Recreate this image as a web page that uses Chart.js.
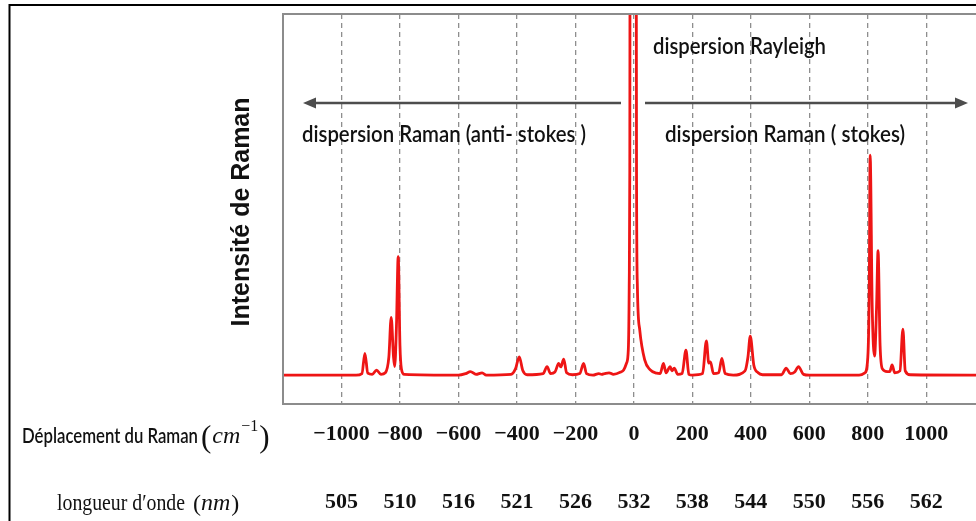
<!DOCTYPE html>
<html>
<head>
<meta charset="utf-8">
<script src="https://cdn.jsdelivr.net/npm/chart.js@4/dist/chart.umd.min.js"></script>
<style>
html,body{margin:0;padding:0;background:#fff;}
#wrap{width:976px;height:521px;position:relative;overflow:hidden;}
</style>
</head>
<body>
<div id="wrap"><canvas id="c" width="976" height="521"></canvas></div>
<script>
// ---- Data ----
// Raman shift (cm^-1)
const ramanShift = [
  -1200, -950, -930, -920, -910, -895, -880, -865, -850, -838, -830, -822, -818, -812, -806, -800, -795, -785,
  -600, -575, -559, -540, -519, -505, -420, -405, -392, -380, -365, -310, -297, -285, -270, -257, -250, -240,
  -230, -210, -185, -172, -162, -140, -120, -110, -100, -85, -70, -45, -35, -25, -19, -16, -14, -13,
  8, 9, 12, 20, 37, 55, 78, 90, 101, 110, 124, 130, 138, 150, 165, 178, 188, 200, 235, 248, 256, 262,
  272, 290, 301, 312, 340, 380, 390, 398, 410, 425, 440, 505, 521, 535, 550, 563, 580, 600, 770, 790,
  800, 805, 808, 815, 823, 830, 835, 842, 850, 866, 875, 883, 892, 910, 920, 928, 945, 1170
];
// Intensity (arbitrary units)
const intensity = [
  7.4, 7.4, 7.8, 13.0, 7.9, 7.6, 8.7, 7.6, 8.0, 12.0, 22.2, 12.0, 9.6, 20.0, 37.8, 15.0, 9.0, 7.6,
  7.4, 7.8, 8.3, 7.6, 8.0, 7.4, 7.6, 9.0, 12.1, 8.6, 7.5, 7.8, 9.6, 7.8, 8.2, 10.4, 9.5, 11.5,
  8.0, 7.5, 7.8, 10.4, 7.8, 7.4, 7.8, 7.6, 7.8, 8.0, 7.6, 8.2, 8.7, 10.5, 14.0, 30.0, 60.0, 120.0,
  120.0, 60.0, 30.0, 19.0, 11.3, 8.8, 7.9, 7.8, 10.4, 8.0, 9.6, 8.5, 9.2, 7.6, 7.8, 13.8, 7.6, 7.4, 7.8, 16.2, 10.5, 10.8,
  7.8, 8.0, 11.7, 7.8, 7.4, 8.5, 12.0, 17.4, 10.0, 8.0, 7.5, 7.5, 9.2, 7.8, 8.2, 9.6, 7.6, 7.4, 7.4, 8.0,
  12.0, 30.0, 63.8, 25.0, 12.3, 25.0, 39.3, 15.0, 9.0, 8.3, 8.3, 10.0, 8.0, 8.5, 19.2, 8.5, 7.5, 7.4
];
// Axis ticks
const shiftTicks = [-1000, -800, -600, -400, -200, 0, 200, 400, 600, 800, 1000];
const shiftTickLabels = ['−1000', '−800', '−600', '−400', '−200', '0', '200', '400', '600', '800', '1000'];
const wavelengthTickLabels = ['505', '510', '516', '521', '526', '532', '538', '544', '550', '556', '562'];
// Texts
const yTitle = 'Intensité de Raman';
const txtRayleigh = 'dispersion Rayleigh';
const txtAntiStokes = 'dispersion Raman (anti- stokes )';
const txtStokes = 'dispersion Raman ( stokes)';
const row1Title = 'Déplacement du Raman';
const row2Title = 'longueur d′onde';

const points = ramanShift.map((x, i) => ({x: x, y: intensity[i]}));

function fitSize(ctx, text, width, style, family) {
  ctx.font = style + ' 100px ' + family;
  return 100 * width / ctx.measureText(text).width;
}
// draw text at a given font size, squeezed horizontally to a target width
function drawFit(ctx, text, x, y, width, size, style, family, color) {
  ctx.save();
  ctx.font = style + ' ' + size + 'px ' + family;
  const sx = Math.min(1.15, width / ctx.measureText(text).width);
  ctx.fillStyle = color;
  ctx.textAlign = 'left';
  ctx.textBaseline = 'alphabetic';
  ctx.translate(x, y);
  ctx.scale(sx, 1);
  ctx.fillText(text, 0, 0);
  ctx.restore();
}
function arrow(ctx, x1, x2, y, color) {
  ctx.save();
  ctx.strokeStyle = color; ctx.fillStyle = color; ctx.lineWidth = 2.5;
  const dir = Math.sign(x2 - x1);
  ctx.beginPath(); ctx.moveTo(x1, y); ctx.lineTo(x2 - dir * 8, y); ctx.stroke();
  ctx.beginPath(); ctx.moveTo(x2, y); ctx.lineTo(x2 - dir * 13, y - 5.5); ctx.lineTo(x2 - dir * 13, y + 5.5); ctx.closePath(); ctx.fill();
  ctx.restore();
}

const decor = {
  id: 'decor',
  beforeDraw(chart) {
    const ctx = chart.ctx;
    ctx.save();
    ctx.fillStyle = '#fff';
    ctx.fillRect(0, 0, chart.width, chart.height);
    ctx.restore();
  },
  afterDraw(chart) {
    const ctx = chart.ctx;
    const a = chart.chartArea;
    ctx.save();
    // outer black frame
    ctx.strokeStyle = '#000'; ctx.lineWidth = 2;
    ctx.beginPath(); ctx.moveTo(9.5, 521); ctx.lineTo(9.5, 5); ctx.lineTo(976, 5); ctx.stroke();
    // plot frame
    ctx.strokeStyle = '#8c8c8c'; ctx.lineWidth = 2;
    ctx.beginPath();
    ctx.moveTo(976, a.top); ctx.lineTo(a.left, a.top); ctx.lineTo(a.left, a.bottom); ctx.lineTo(976, a.bottom);
    ctx.stroke();
    // arrows
    arrow(ctx, 621, 303, 103, '#4d4d4d');
    arrow(ctx, 645, 968, 103, '#4d4d4d');
    // annotation texts
    drawFit(ctx, txtRayleigh, 653, 54, 173, 22, '600', 'Lato', '#111');
    drawFit(ctx, txtAntiStokes, 302, 142, 284, 22, '600', 'Lato', '#111');
    drawFit(ctx, txtStokes, 665, 142, 240, 22, '600', 'Lato', '#111');
    // y title
    ctx.save();
    ctx.translate(249, 212);
    ctx.rotate(-Math.PI / 2);
    const ys = fitSize(ctx, yTitle, 229, 'bold', '"Liberation Sans"');
    ctx.font = 'bold ' + ys.toFixed(2) + 'px "Liberation Sans"';
    ctx.fillStyle = '#111'; ctx.textAlign = 'center'; ctx.textBaseline = 'alphabetic';
    ctx.fillText(yTitle, 0, 0);
    ctx.restore();
    // row 1 title
    drawFit(ctx, row1Title, 22, 443, 176, 20.5, '600', 'Lato', '#111');
    let x = 201;
    ctx.fillStyle = '#111'; ctx.textBaseline = 'alphabetic'; ctx.textAlign = 'left';
    ctx.font = 'normal 31px "Liberation Serif"';
    ctx.fillText('(', x, 447); x += ctx.measureText('(').width + 1;
    ctx.font = 'italic 24px "Liberation Serif"';
    ctx.fillText('cm', x, 443); x += ctx.measureText('cm').width + 1;
    ctx.font = 'normal 16px "Liberation Serif"';
    ctx.fillText('−1', x, 431); x += ctx.measureText('−1').width + 1;
    ctx.font = 'normal 31px "Liberation Serif"';
    ctx.fillText(')', x, 447);
    // row 2 title
    drawFit(ctx, row2Title, 57, 510, 128, 23, 'normal', '"Liberation Serif"', '#111');
    x = 193;
    ctx.font = 'normal 24px "Liberation Serif"';
    ctx.fillText('(', x, 511); x += ctx.measureText('(').width;
    ctx.font = 'italic 24px "Liberation Serif"';
    ctx.fillText('nm', x, 510); x += ctx.measureText('nm').width + 1;
    ctx.font = 'normal 24px "Liberation Serif"';
    ctx.fillText(')', x, 511);
    ctx.restore();
  }
};

const setTicks = (scale) => { scale.ticks = shiftTicks.map(v => ({value: v})); };

new Chart(document.getElementById('c'), {
  type: 'line',
  data: {
    datasets: [{
      data: points,
      borderColor: '#ee1515',
      borderWidth: 2.8,
      pointRadius: 0,
      fill: false,
      cubicInterpolationMode: 'monotone'
    }]
  },
  options: {
    responsive: false,
    animation: false,
    devicePixelRatio: 1,
    layout: {padding: {left: 283, top: 14, right: 0, bottom: 0}},
    plugins: {legend: {display: false}, tooltip: {enabled: false}},
    scales: {
      x: {
        type: 'linear', position: 'bottom', weight: 1,
        min: -1200, max: 1170,
        afterBuildTicks: setTicks,
        afterFit: (s) => { s.height = 58; },
        grid: {display: true, drawOnChartArea: true, drawTicks: false, color: '#8e8e8e', lineWidth: 1.3},
        border: {display: false, dash: [5, 4]},
        ticks: {
          autoSkip: false, maxRotation: 0, padding: 17.4, color: '#111',
          font: {family: '"Liberation Serif"', size: 22, weight: 'bold'},
          callback: (v) => shiftTickLabels[shiftTicks.indexOf(v)]
        }
      },
      x2: {
        type: 'linear', position: 'bottom', weight: 2,
        min: -1200, max: 1170,
        afterBuildTicks: setTicks,
        afterFit: (s) => { s.height = 59; },
        grid: {display: false, drawTicks: false},
        border: {display: false},
        ticks: {
          autoSkip: false, maxRotation: 0, padding: 27.4, color: '#111',
          font: {family: '"Liberation Serif"', size: 22, weight: 'bold'},
          callback: (v) => wavelengthTickLabels[shiftTicks.indexOf(v)]
        }
      },
      y: {display: false, min: 0, max: 100}
    }
  },
  plugins: [decor]
});
</script>
</body>
</html>
